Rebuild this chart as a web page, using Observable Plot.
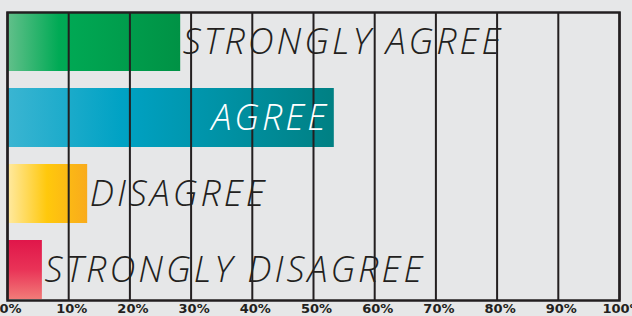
<!DOCTYPE html>
<html><head><meta charset="utf-8">
<script src="https://cdn.jsdelivr.net/npm/d3@7"></script>
<script src="https://cdn.jsdelivr.net/npm/@observablehq/plot@0.6"></script>
<style>
html,body{margin:0;padding:0;background:#e6e7e8;}
#chart svg{display:block;background:#e6e7e8;}
#chart svg g[aria-label="text"] text{letter-spacing:3px;}
</style></head><body><div id="chart"></div>
<script>
const categories = ["STRONGLY AGREE", "AGREE", "DISAGREE", "STRONGLY DISAGREE"];
const values = [28.3, 53.4, 13.1, 5.7];
const labelInside = [false, true, false, false];
const tickValues = [0, 10, 20, 30, 40, 50, 60, 70, 80, 90, 100];
const gradientIds = ["grad-sa", "grad-a", "grad-d", "grad-sd"];

const data = categories.map((c, i) => ({category: c, value: values[i], inside: labelInside[i], grad: `url(#${gradientIds[i]})`}));

const gradientDefs = () => {
  const defs = d3.create("svg:defs");
  const add = (id, vertical, stops) => {
    const g = defs.append("linearGradient").attr("id", id)
      .attr("x1", 0).attr("y1", 0).attr("x2", vertical ? 0 : 1).attr("y2", vertical ? 1 : 0);
    stops.forEach(([o, c]) => g.append("stop").attr("offset", o).attr("stop-color", c));
  };
  add(gradientIds[0], false, [[0, "#63c08b"], [0.3, "#00aa55"], [1, "#009245"]]);
  add(gradientIds[1], false, [[0, "#3bb5d2"], [0.35, "#00a2c4"], [1, "#008083"]]);
  add(gradientIds[2], false, [[0, "#ffeaa3"], [0.5, "#ffc80c"], [1, "#f9ab1c"]]);
  add(gradientIds[3], true, [[0, "#e0164a"], [0.5, "#e93357"], [1, "#f27b78"]]);
  return defs.node();
};

const labelFont = {fontFamily: "'Open Sans', sans-serif", fontStyle: "italic", fontWeight: 300, fontSize: 36};

const chart = Plot.plot({
  width: 632,
  height: 316,
  marginLeft: 7,
  marginRight: 13,
  marginTop: 12,
  marginBottom: 16,
  style: {background: "#e6e7e8"},
  x: {domain: [0, 100], axis: null},
  y: {domain: categories, paddingInner: 0.22, paddingOuter: 0, axis: null},
  color: {type: "identity"},
  marks: [
    gradientDefs,
    Plot.barX(data, {x: "value", y: "category", fill: "grad"}),
    Plot.gridX(tickValues, {stroke: "#231f20", strokeOpacity: 1, strokeWidth: 2}),
    Plot.frame({stroke: "#231f20", strokeWidth: 2.5}),
    Plot.axisX(tickValues, {tickSize: 0, tickPadding: 3, tickFormat: d => d + "%", fontSize: 13, fontWeight: 700, fontFamily: "'DejaVu Sans', sans-serif", fill: "#231f20", label: null, dx: 3}),
    Plot.text(data.filter(d => !d.inside), {x: "value", y: "category", text: "category", textAnchor: "start", dx: 2, fill: "#231f20", ...labelFont}),
    Plot.text(data.filter(d => d.inside), {x: "value", y: "category", text: "category", textAnchor: "end", dx: -5, fill: "white", ...labelFont})
  ]
});
document.getElementById("chart").appendChild(chart);
</script>
</body></html>
